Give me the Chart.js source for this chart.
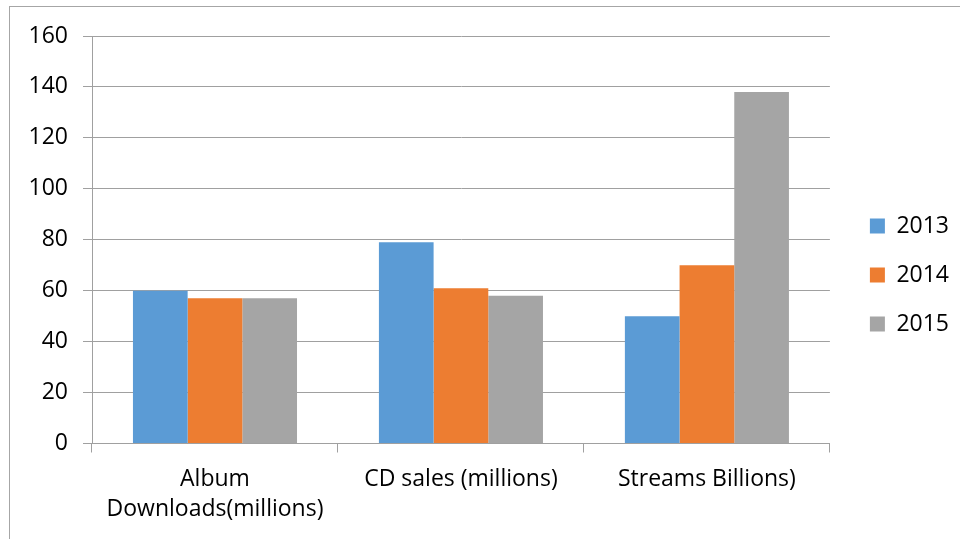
<!DOCTYPE html>
<html>
<head>
<meta charset="utf-8">
<title>Music sales 2013-2015</title>
<script src="https://cdn.jsdelivr.net/npm/chart.js@4/dist/chart.umd.min.js"></script>
<style>
  html, body { margin: 0; padding: 0; background: #fff; overflow: hidden; }
  #wrap { position: relative; width: 960px; height: 539px; }
  #frame {
    position: absolute; left: 9px; top: 6px; width: 1000px; height: 600px;
    border-left: 1px solid #a6a6a6; border-top: 1px solid #a6a6a6;
  }
  canvas { position: absolute; left: 0; top: 0; }
</style>
</head>
<body>
<div id="wrap">
  <div id="frame"></div>
  <canvas id="chart" width="960" height="539"></canvas>
</div>
<script>
const categories = [['Album', 'Downloads(millions)'], 'CD sales (millions)', 'Streams Billions)'];
const years = ['2013', '2014', '2015'];
const sales2013 = [60, 79, 50];
const sales2014 = [57, 61, 70];
const sales2015 = [57, 58, 138];
const yTicks = [0, 20, 40, 60, 80, 100, 120, 140, 160];
const colors = ['#5b9bd5', '#ed7d31', '#a5a5a5'];

const FONT = "'Open Sans', sans-serif";
const FONT_SIZE = 23;
const gridColor = '#a0a0a0';

const seriesValues = [sales2013, sales2014, sales2015];

// let the two-line category label run below the x scale box without being clipped
const labelRoom = {
  id: 'labelRoom',
  afterLayout(chart) {
    chart.scales.x.bottom = chart.height;
  }
};

new Chart(document.getElementById('chart'), {
  type: 'bar',
  data: {
    labels: categories,
    datasets: years.map((y, i) => ({
      label: y,
      data: seriesValues[i],
      backgroundColor: colors[i],
      borderWidth: 0,
      categoryPercentage: 0.667,
      barPercentage: 1
    }))
  },
  plugins: [labelRoom],
  options: {
    responsive: false,
    animation: false,
    layout: { padding: { top: 36, bottom: 25, left: 0, right: 1 } },
    plugins: {
      tooltip: { enabled: false },
      legend: {
        position: 'right',
        labels: {
          color: '#000',
          boxWidth: 15,
          boxHeight: 15,
          padding: 26,
          font: { family: FONT, size: FONT_SIZE }
        }
      }
    },
    scales: {
      x: {
        afterFit: s => { s.height = 70.5; },
        grid: {
          offset: true,
          drawOnChartArea: false,
          tickLength: 9,
          color: gridColor
        },
        border: { color: gridColor },
        ticks: {
          color: '#000',
          padding: 12,
          font: { family: FONT, size: FONT_SIZE, lineHeight: 1.3 }
        }
      },
      y: {
        min: 0,
        max: 160,
        afterFit: s => { s.width = 92; },
        afterBuildTicks: s => { s.ticks = yTicks.map(v => ({ value: v })); },
        grid: { color: gridColor, tickLength: 9 },
        border: { color: gridColor },
        ticks: {
          color: '#000',
          padding: 15,
          font: { family: FONT, size: FONT_SIZE }
        }
      },
      // empty spacer between the plot and the legend
      gap: {
        position: 'right',
        axis: 'y',
        type: 'linear',
        afterFit: s => { s.width = 14; },
        grid: { display: false },
        border: { display: false },
        ticks: { display: false }
      }
    }
  }
});
</script>
</body>
</html>
